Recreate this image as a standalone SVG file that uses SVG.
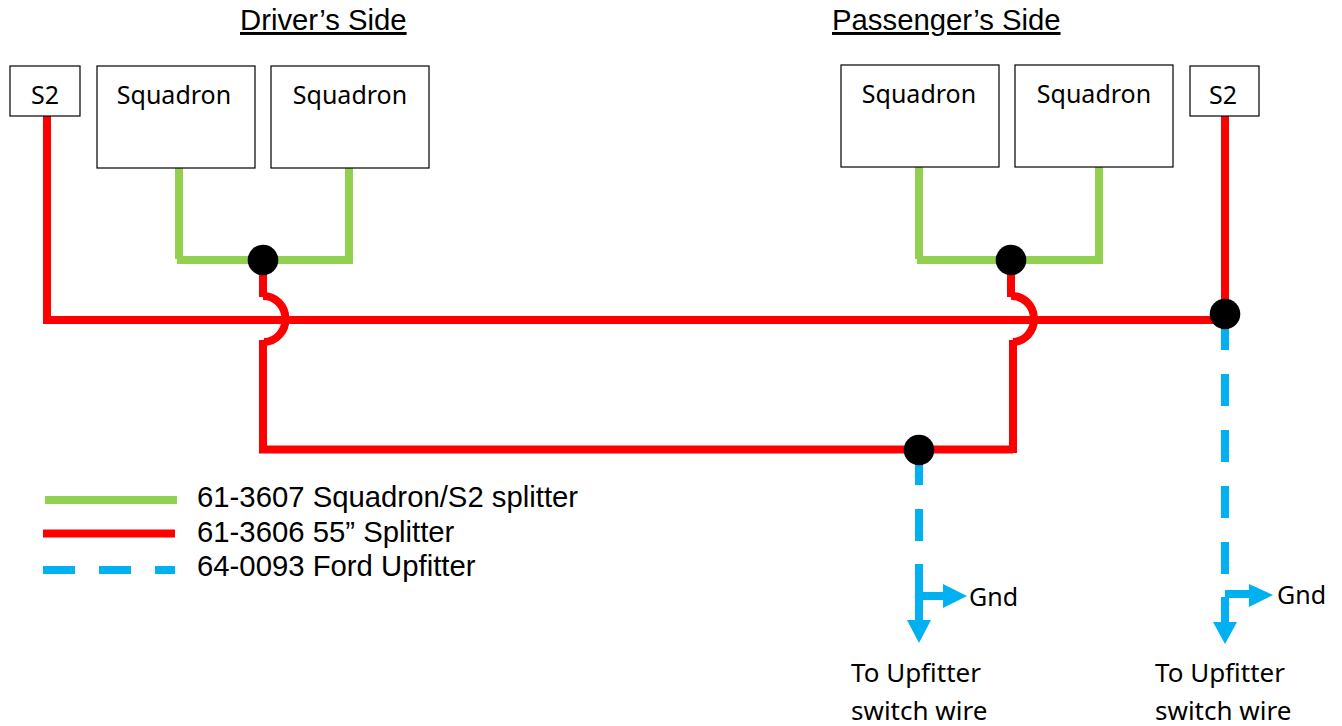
<svg xmlns="http://www.w3.org/2000/svg" width="1342" height="726" viewBox="0 0 1342 726">
<style>
.box{fill:#fff;stroke:#000;stroke-width:1.2}
.w{fill:none;stroke-width:8;stroke-linecap:butt;stroke-linejoin:miter}
.g{stroke:#92d050}.r{stroke:#f00}.b{stroke:#00b0f0}
.d{stroke-dasharray:32 24}
.dot{fill:#000}
.head{fill:#00b0f0}
text{fill:#000}
.a{font-family:"Liberation Sans",Arial,sans-serif;font-size:29.3px}
.c{font-family:"Noto Sans","Open Sans",sans-serif;font-size:25px}
.l{font-size:26px}
.u{text-decoration:underline}
</style>
<g id="connectors">
<path class="w g" d="M179 168V259"/>
<path class="w g" d="M177 260H266"/>
<path class="w g" d="M349 168V260H260"/>
<path class="w g" d="M919 167V259"/>
<path class="w g" d="M917 260H1011"/>
<path class="w g" d="M1099 167V260H1011"/>
<path class="w r" d="M47 116V320H1225"/>
<path class="w r" d="M1225 116V320"/>
<path class="w r" d="M263 260V297"/>
<path class="w r" d="M263 296A22 23 0 0 1 264 342"/>
<path class="w r" d="M263 340V449.500H1013"/>
<path class="w r" d="M1011 260V297"/>
<path class="w r" d="M1011 296A22 23 0 0 1 1013 342"/>
<path class="w r" d="M1013 340V453"/>
<path class="w b d" d="M1225 318V574"/>
<path class="w b d" d="M919 453V596"/>
<path class="w b" d="M919 564V621"/>
<path class="w b" d="M919 596H944"/>
<polygon class="head" points="907,620 931,620 919,643"/>
<polygon class="head" points="943,584 967,596 943,608"/>
<path class="w b" d="M1225 597V623"/>
<path class="w b" d="M1225 594H1250"/>
<polygon class="head" points="1213,622 1237,622 1225,644"/>
<polygon class="head" points="1249,584 1273,595 1249,607"/>
</g>
<g id="s2-left"><rect class="box" x="10" y="66" width="70" height="50"/><text class="c" x="45" y="104" text-anchor="middle">S2</text></g>
<g id="squadron-1"><rect class="box" x="97" y="66" width="158" height="102"/><text class="c" x="174" y="104" text-anchor="middle">Squadron</text></g>
<g id="squadron-2"><rect class="box" x="271" y="66" width="158" height="102"/><text class="c" x="350" y="104" text-anchor="middle">Squadron</text></g>
<g id="squadron-3"><rect class="box" x="841" y="65" width="158" height="102"/><text class="c" x="919" y="103" text-anchor="middle">Squadron</text></g>
<g id="squadron-4"><rect class="box" x="1015" y="65" width="158" height="102"/><text class="c" x="1094" y="103" text-anchor="middle">Squadron</text></g>
<g id="s2-right"><rect class="box" x="1190" y="66" width="69" height="50"/><text class="c" x="1223" y="104" text-anchor="middle">S2</text></g>
<g id="junctions">
<circle class="dot" cx="263" cy="260" r="15.3"/>
<circle class="dot" cx="1011" cy="260" r="15.3"/>
<circle class="dot" cx="1225" cy="314" r="15.3"/>
<circle class="dot" cx="919" cy="450" r="15.3"/>
</g>
<g id="titles">
<text class="a u" x="240" y="30">Driver’s Side</text>
<text class="a u" x="832" y="30">Passenger’s Side</text>
</g>
<g id="legend">
<path class="w g" d="M45 500H177"/>
<path class="w r" d="M43 533.500H175"/>
<path class="w b d" d="M43 570H175"/>
<text class="a" x="197" y="507">61-3607 Squadron/S2 splitter</text>
<text class="a" x="197" y="542">61-3606 55” Splitter</text>
<text class="a" x="197" y="576">64-0093 Ford Upfitter</text>
</g>
<g id="labels">
<text class="c" x="969" y="606">Gnd</text>
<text class="c" x="1277" y="604">Gnd</text>
<text class="c l" x="851" y="682">To Upfitter</text>
<text class="c l" x="851" y="720">switch wire</text>
<text class="c l" x="1155" y="682">To Upfitter</text>
<text class="c l" x="1155" y="720">switch wire</text>
</g>
</svg>
